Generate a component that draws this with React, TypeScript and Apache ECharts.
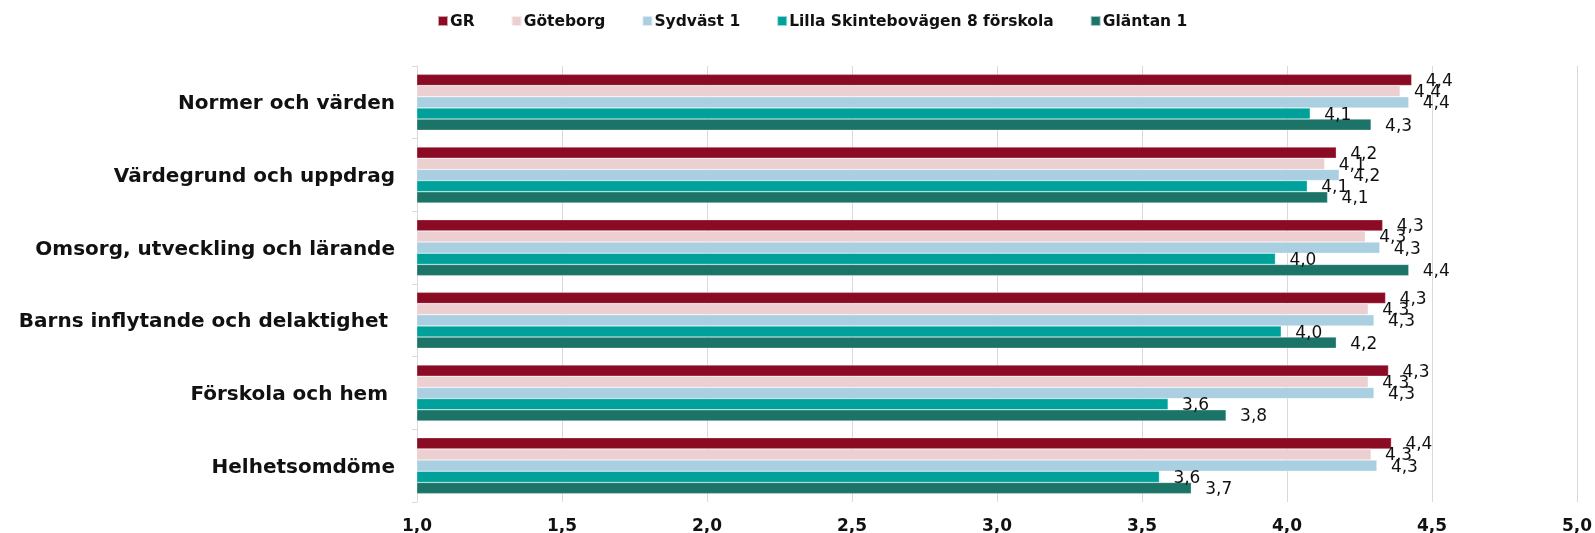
import React, { useEffect, useRef } from "react";
import * as echarts from "echarts";

const categories = [
  "Normer och värden",
  "Värdegrund och uppdrag",
  "Omsorg, utveckling och lärande",
  "Barns inflytande och delaktighet ",
  "Förskola och hem ",
  "Helhetsomdöme",
];

const seriesNames = ["GR", "Göteborg", "Sydväst 1", "Lilla Skintebovägen 8 förskola", "Gläntan 1"];

const grValues = [4.43, 4.17, 4.33, 4.34, 4.35, 4.36];
const goteborgValues = [4.39, 4.13, 4.27, 4.28, 4.28, 4.29];
const sydvastValues = [4.42, 4.18, 4.32, 4.3, 4.3, 4.31];
const lillaValues = [4.08, 4.07, 3.96, 3.98, 3.59, 3.56];
const glantanValues = [4.29, 4.14, 4.42, 4.17, 3.79, 3.67];

const colors = ["#8B0B24", "#ECCFD0", "#AACFE1", "#00A19B", "#1C7468"];

const xTicks = { min: 1, max: 5, interval: 0.5 };

const FONT = "DejaVu Sans";

export default function App() {
  const ref = useRef<HTMLDivElement>(null);
  useEffect(() => {
    if (!ref.current) return;
    const chart = echarts.init(ref.current, undefined, { renderer: "svg" });
    const allValues = [grValues, goteborgValues, sydvastValues, lillaValues, glantanValues];
    const fmt = (v: number) => v.toFixed(1).replace(".", ",");
    chart.setOption({
      animation: false,
      color: colors,
      legend: {
        top: 8,
        left: 432,
        itemWidth: 10,
        itemHeight: 10,
        itemGap: 36,
        icon: "rect",
        textStyle: { fontFamily: FONT, fontSize: 15.5, fontWeight: "bold", color: "#111", padding: [0, 0, 0, -3] },
        data: seriesNames,
      },
      grid: { left: 417, right: 18, top: 66, bottom: 31, containLabel: false, outerBoundsMode: "none" },
      xAxis: {
        type: "value",
        min: xTicks.min,
        max: xTicks.max,
        interval: xTicks.interval,
        axisLine: { show: false },
        axisTick: { show: false },
        splitLine: { show: true, lineStyle: { color: "#D9D9D9", width: 1 } },
        axisLabel: {
          fontFamily: FONT,
          fontSize: 17,
          fontWeight: "bold",
          color: "#111",
          margin: 14,
          formatter: (v: number) => fmt(v),
        },
      },
      yAxis: {
        type: "category",
        data: categories,
        inverse: true,
        axisLine: { show: true, lineStyle: { color: "#D9D9D9", width: 1 } },
        axisTick: { show: true, length: 5, lineStyle: { color: "#D9D9D9" } },
        axisLabel: {
          fontFamily: FONT,
          fontSize: 20,
          fontWeight: "bold",
          color: "#111",
          margin: 22,
        },
      },
      series: seriesNames.map((name, i) => ({
        name,
        type: "bar",
        data: allValues[i],
        barGap: "0%",
        barCategoryGap: "23%",
        itemStyle: { color: colors[i], borderColor: "rgba(255,255,255,0.6)", borderWidth: 0.5 },
        label: {
          show: true,
          position: "right",
          distance: 14,
          fontFamily: FONT,
          fontSize: 17,
          color: "#111",
          formatter: (p: any) => fmt(p.value),
        },
      })),
    });
    return () => chart.dispose();
  }, []);
  return <div ref={ref} style={{ position: "fixed", left: 0, top: 0, width: 1595, height: 533 }} />;
}
